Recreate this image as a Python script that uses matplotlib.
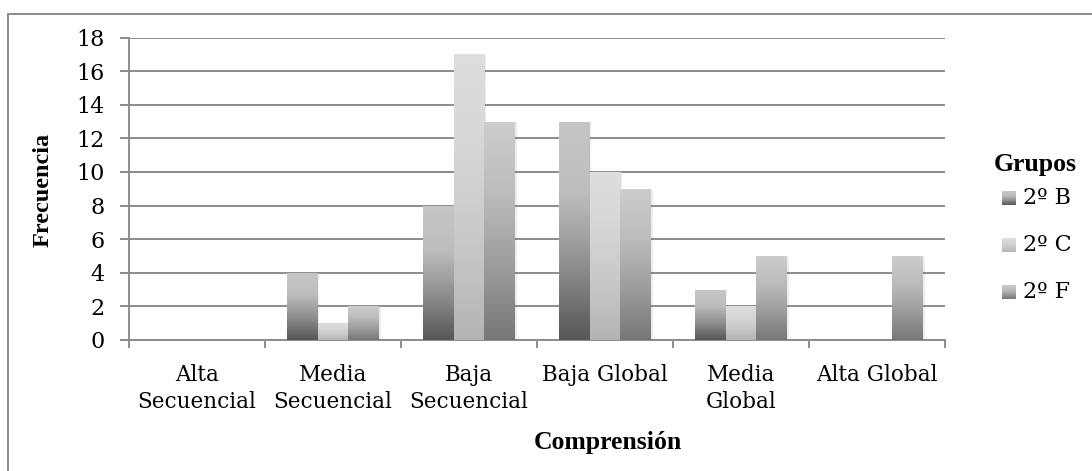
import numpy as np
import matplotlib
matplotlib.use("Agg")
import matplotlib.pyplot as plt
from matplotlib.colors import LinearSegmentedColormap
from matplotlib.patches import Rectangle

# Datos
categorias = ["Alta\nSecuencial", "Media\nSecuencial", "Baja\nSecuencial",
              "Baja Global", "Media\nGlobal", "Alta Global"]
grupos = ["2º B", "2º C", "2º F"]
valores_B = [0, 4, 8, 13, 3, 0]
valores_C = [0, 1, 17, 10, 2, 0]
valores_F = [0, 2, 13, 9, 5, 5]

# degradados por serie (abajo -> arriba)
degradados = {
    "2º B": ["#565656", "#8e8e8e", "#bdbdbd", "#c6c6c6"],
    "2º C": ["#b4b4b4", "#c8c8c8", "#d6d6d6", "#dedede"],
    "2º F": ["#777777", "#9c9c9c", "#bcbcbc", "#cdcdcd"],
}
cmaps = {k: LinearSegmentedColormap.from_list(k, v) for k, v in degradados.items()}
grad = np.linspace(0, 1, 256).reshape(-1, 1)

W, H = 1092, 471
fig = plt.figure(figsize=(W / 100, H / 100), dpi=100)
ax = fig.add_axes([129 / W, 1 - 340 / H, 816 / W, 302.5 / H])

tick_font = "DejaVu Serif"
title_font = "Liberation Serif"
gris = "#8c8c8c"

x = np.arange(len(categorias))
ancho = 0.225
series = [valores_B, valores_C, valores_F]
for i, (nombre, vals) in enumerate(zip(grupos, series)):
    barras = ax.bar(x + (i - 1) * ancho, vals, ancho, facecolor="none",
                    edgecolor="none", zorder=3)
    for b in barras:
        if b.get_height() <= 0:
            continue
        x0, w, h = b.get_x(), b.get_width(), b.get_height()
        # sombra suave
        ax.add_patch(Rectangle((x0 + 0.012, 0), w, h - 0.05, facecolor="black",
                               alpha=0.07, edgecolor="none", zorder=2))
        im = ax.imshow(grad, cmap=cmaps[nombre], origin="lower", aspect="auto",
                       extent=(x0, x0 + w, 0, h), zorder=3, interpolation="bilinear")
        im.set_clip_path(b)

ax.set_xlim(-0.5, len(categorias) - 0.5)
ax.set_ylim(0, 18)
ax.set_yticks(range(0, 19, 2))
ax.yaxis.grid(True, color=gris, linewidth=1.4, zorder=0)
ax.set_axisbelow(True)

ax.set_xticks(x)
ax.set_xticklabels(categorias, fontfamily=tick_font, fontsize=15.5, linespacing=1.3)
ax.set_xticks(np.arange(-0.5, len(categorias)), minor=True)
ax.tick_params(axis="x", which="major", length=0, pad=17)
ax.tick_params(axis="x", which="minor", length=6, width=1.4, color=gris, direction="out")
ax.tick_params(axis="y", length=6.5, width=1.4, color=gris, pad=11)
for lab in ax.get_yticklabels():
    lab.set_fontfamily(tick_font)
    lab.set_fontsize(16)

for s in ["top", "right"]:
    ax.spines[s].set_visible(False)
for s in ["left", "bottom"]:
    ax.spines[s].set_color(gris)
    ax.spines[s].set_linewidth(1.4)

fig.text(43 / W, 1 - 190 / H, "Frecuencia", rotation=90, ha="center", va="center",
         fontfamily=title_font, fontweight="bold", fontsize=17.5)
fig.text(608 / W, 1 - 443 / H, "Comprensión", ha="center", va="center",
         fontfamily=title_font, fontweight="bold", fontsize=18.5)

# leyenda manual con degradados
fig.text(1035 / W, 1 - 165 / H, "Grupos", ha="center", va="center",
         fontfamily=title_font, fontweight="bold", fontsize=18.5)
for nombre, yc in zip(grupos, [198, 245, 292]):
    sw = fig.add_axes([1002 / W, 1 - (yc + 7) / H, 14 / W, 14 / H])
    sw.imshow(grad, cmap=cmaps[nombre], origin="lower", aspect="auto")
    sw.axis("off")
    fig.text(1023 / W, 1 - yc / H, nombre, ha="left", va="center",
             fontfamily=tick_font, fontsize=16)

# borde del area del grafico
fig.patches.append(Rectangle((8 / W, -0.1), 1.2, 1 - 14 / H + 0.1,
                             transform=fig.transFigure, fill=False,
                             edgecolor=gris, linewidth=1.4))

fig.savefig("out.png", dpi=100)
